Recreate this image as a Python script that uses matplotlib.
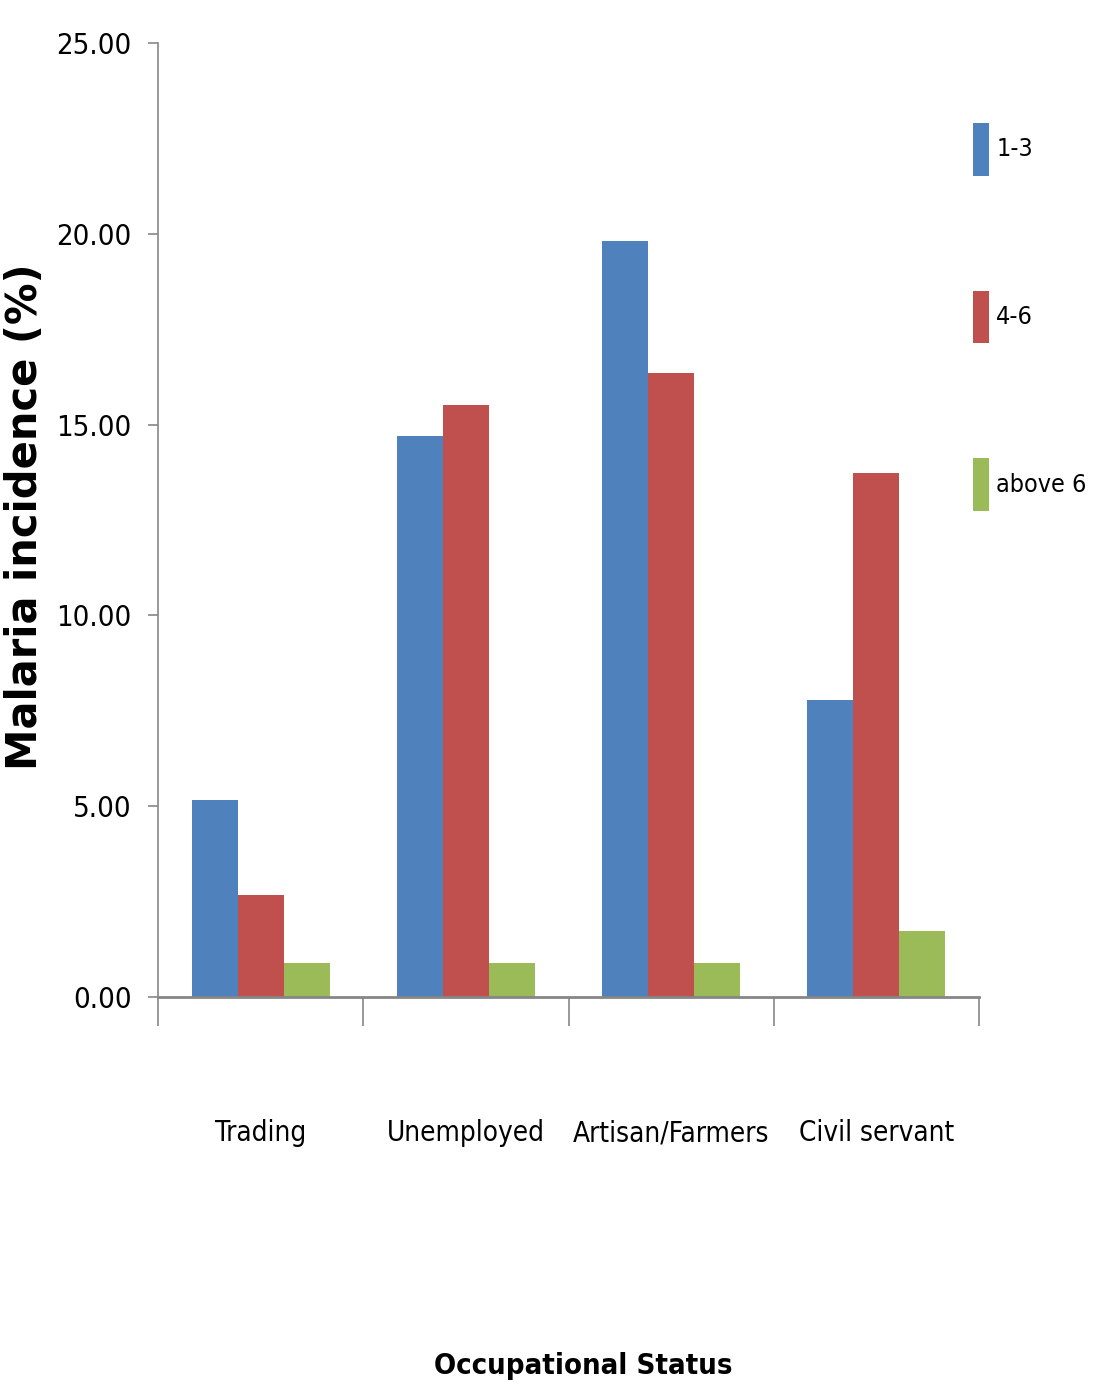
"""
Malaria incidence (%) by occupational status, grouped by household size band.
Output: out.png
"""

import matplotlib
matplotlib.use("Agg")
import matplotlib.pyplot as plt
import numpy as np
from matplotlib import font_manager

# --- data ---
categories = ["Trading", "Unemployed", "Artisan/Farmers", "Civil servant"]
series_names = ["1-3", "4-6", "above 6"]
band_1_3 = [5.16, 14.70, 19.81, 7.78]
band_4_6 = [2.67, 15.51, 16.35, 13.73]
band_above_6 = [0.89, 0.89, 0.89, 1.73]
y_ticks = [0, 5, 10, 15, 20, 25]

colors = ["#4F81BD", "#C0504D", "#9BBB59"]
axis_grey = "#868686"

# narrow face for the labels if one is available
names = {f.name for f in font_manager.fontManager.ttflist}
if "Liberation Sans Narrow" in names:
    narrow = dict(family="Liberation Sans Narrow")
else:
    narrow = dict(family="DejaVu Sans", stretch="condensed")

fig = plt.figure(figsize=(10.99, 13.95), dpi=100)
ax = fig.add_axes([0.1438, 0.2853, 0.747, 0.6839])

x = np.arange(len(categories))
width = 0.224
for k, (vals, name) in enumerate(zip([band_1_3, band_4_6, band_above_6], series_names)):
    ax.bar(x + (k - 1) * width, vals, width, color=colors[k], label=name, zorder=2)

ax.set_xlim(-0.5, len(categories) - 0.5)
ax.set_ylim(0, 25)

# y axis
ax.set_yticks(y_ticks)
ax.set_yticklabels([f"{v:.2f}" for v in y_ticks], fontsize=21, **narrow)
ax.tick_params(axis="y", direction="out", length=7, width=1.2, color=axis_grey, pad=12)

# x axis: long ticks between groups, labels centred under each group
ax.set_xticks(np.arange(-0.5, len(categories), 1.0))
ax.set_xticklabels([])
ax.tick_params(axis="x", which="major", direction="out", length=21, width=1.2, color=axis_grey)
ax.set_xticks(x, minor=True)
ax.set_xticklabels(categories, minor=True, fontsize=20, **narrow)
ax.tick_params(axis="x", which="minor", length=0, pad=88)

for side in ["top", "right"]:
    ax.spines[side].set_visible(False)
ax.spines["left"].set_color(axis_grey)
ax.spines["left"].set_linewidth(1.2)
ax.spines["bottom"].set_color(axis_grey)
ax.spines["bottom"].set_linewidth(2.0)

ax.set_ylabel("Malaria incidence (%)", fontsize=30, fontweight="bold", family="DejaVu Sans")
ax.yaxis.set_label_coords(-0.137, 0.503)
ax.set_xlabel("Occupational Status", fontsize=21, fontweight="bold", **narrow)
ax.xaxis.set_label_coords(0.518, -0.372)

leg = ax.legend(loc="upper left", bbox_to_anchor=(0.98, 0.927), frameon=False,
                prop=font_manager.FontProperties(size=18, **narrow),
                handlelength=0.65, handleheight=2.88, handletextpad=0.3,
                labelspacing=4.6, borderaxespad=0)

fig.savefig("out.png", dpi=100)
